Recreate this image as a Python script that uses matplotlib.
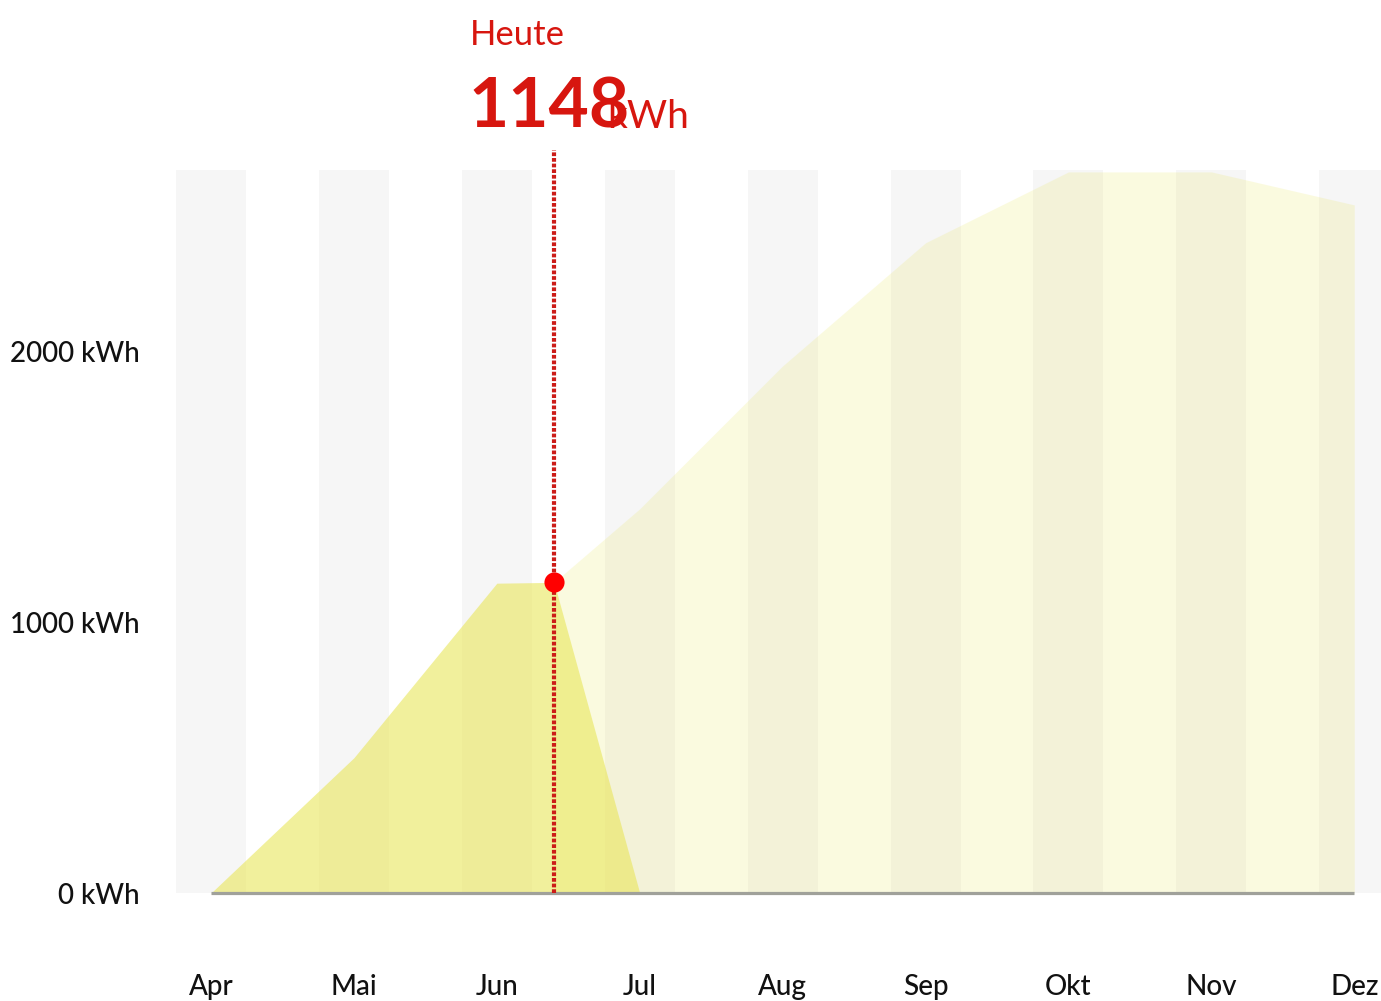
import matplotlib
matplotlib.use("Agg")
import matplotlib.pyplot as plt

# -----------------------
# DATA
# -----------------------
MONTHS = ["Apr", "Mai", "Jun", "Jul", "Aug", "Sep", "Okt", "Nov", "Dez"]

# produced so far (kWh), x as month index
ACTUAL_X = [0, 1, 2, 2.4, 3]
ACTUAL_Y = [0, 500, 1145, 1148, 0]

# forecast from today to year end (kWh)
FORECAST_X = [2.4, 3, 4, 5, 6, 7, 8]
FORECAST_Y = [1148, 1420, 1948, 2403, 2665, 2665, 2543]

TODAY_X = 2.4
TODAY_VALUE = 1148

Y_TICKS = [0, 1000, 2000]
Y_TICK_LABELS = ["0 kWh", "1000 kWh", "2000 kWh"]

# -----------------------
# STYLE
# -----------------------
FONT = ["Lato", "DejaVu Sans"]
RED = "#d7160f"
YELLOW = "#e9e65a"
STRIPE = "#f6f6f6"

plt.rcParams["font.family"] = FONT

fig = plt.figure(figsize=(13.81, 10.01), dpi=100)
ax = fig.add_axes([176 / 1381, 108 / 1001, 1 - 176 / 1381, 723 / 1001])

# background stripes, one per month
for i in range(len(MONTHS)):
    ax.axvspan(i - 0.245, i + 0.245, color=STRIPE, lw=0, zorder=0)

# forecast area (pale) and actual area (strong)
ax.fill_between(FORECAST_X, FORECAST_Y, 0, color=YELLOW, alpha=0.19, lw=0, zorder=1)
ax.fill_between(ACTUAL_X, ACTUAL_Y, 0, color=YELLOW, alpha=0.6, lw=0, zorder=2)

# base line
ax.plot([0, len(MONTHS) - 1], [0, 0], color="#a0a19a", lw=2.3, zorder=3,
        solid_capstyle="butt", clip_on=False)

# today marker
ax.plot([TODAY_X, TODAY_X], [0, 2747], color="#cc1c18", lw=3.0,
        linestyle=(0, (0.9, 0.45)), zorder=4, clip_on=False)
ax.plot([TODAY_X], [TODAY_VALUE], "o", color="#ff0000", markersize=14.5,
        markeredgewidth=0, zorder=5, clip_on=False)

ax.set_xlim(-0.245, 8.187)
ax.set_ylim(0, 2672)

ax.set_xticks(range(len(MONTHS)))
ax.set_xticklabels(MONTHS)
ax.set_yticks(Y_TICKS)
ax.set_yticklabels(Y_TICK_LABELS)
ax.tick_params(axis="x", length=0, pad=58, labelsize=20, labelcolor="#111111")
ax.tick_params(axis="y", length=0, pad=26, labelsize=20, labelcolor="#111111")
for lbl in ax.get_xticklabels() + ax.get_yticklabels():
    lbl.set_fontweight("medium")
for s in ax.spines.values():
    s.set_visible(False)

# headline
fig.text(470 / 1381, 1 - 45 / 1001, "Heute", color=RED, fontsize=25,
         ha="left", va="baseline")
fig.text(607 / 1381, 1 - 128 / 1001, "kWh", color=RED, fontsize=28,
         ha="left", va="baseline", zorder=1)
fig.text(468 / 1381, 1 - 128 / 1001, f"{TODAY_VALUE}", color=RED, fontsize=50,
         fontweight="bold", ha="left", va="baseline", zorder=2)

fig.savefig("out.png", dpi=100)
